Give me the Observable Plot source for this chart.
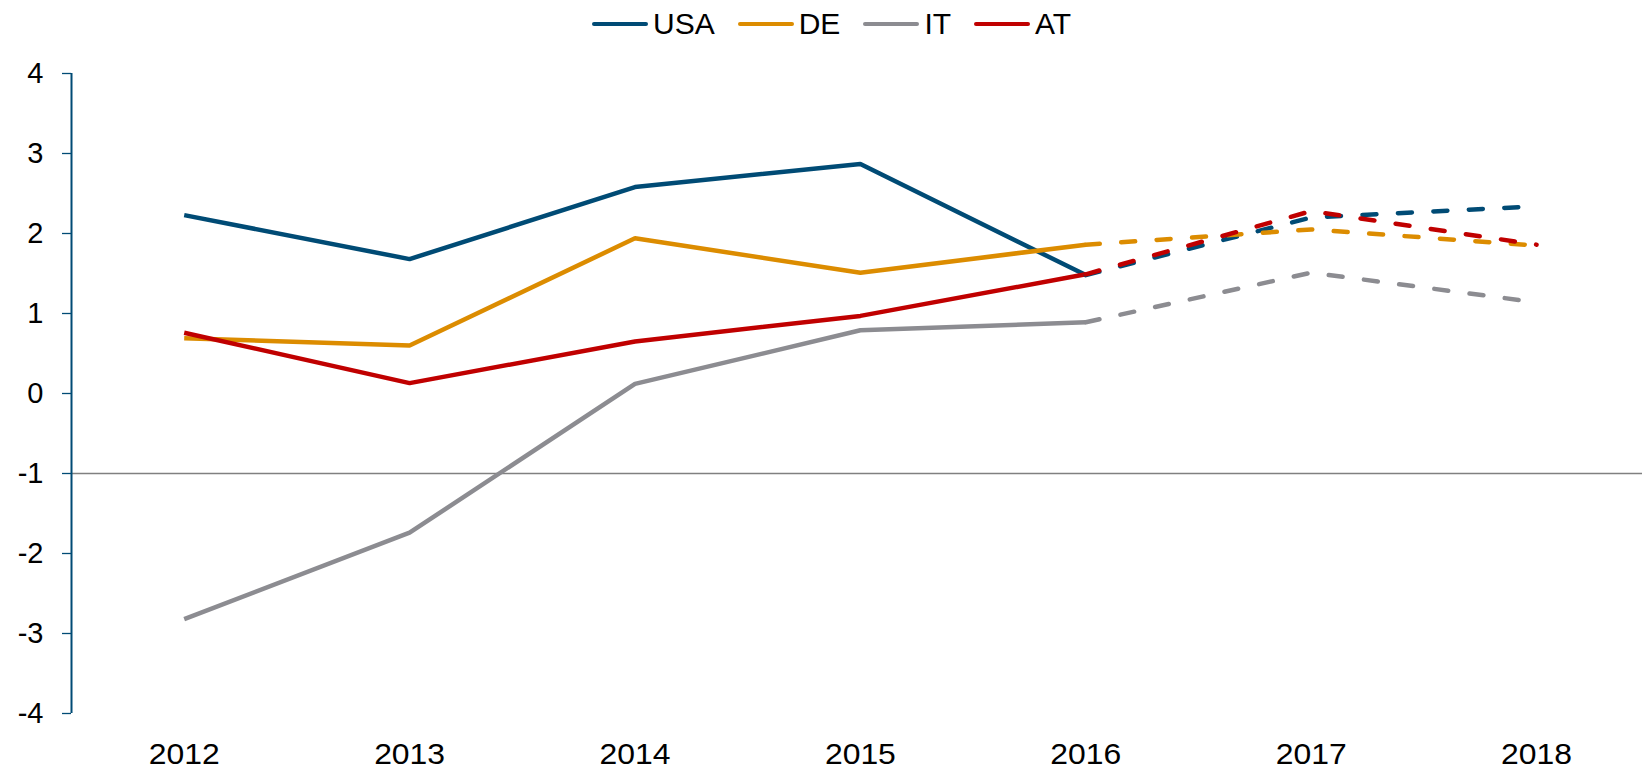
<!DOCTYPE html>
<html>
<head>
<meta charset="utf-8">
<script src="https://cdn.jsdelivr.net/npm/d3@7"></script>
<script src="https://cdn.jsdelivr.net/npm/@observablehq/plot@0.6"></script>
<style>
  html, body { margin: 0; padding: 0; background: #fff; }
  body { width: 1642px; height: 770px; overflow: hidden; font-family: "Liberation Sans", Arial, sans-serif; }
  #legend { position: relative; height: 48px; }
  #legend .items { position: absolute; left: 592px; top: 0; height: 48px; display: flex; align-items: center; }
  #legend .item { display: flex; align-items: center; margin-right: 23px; font-size: 30px; line-height: 30px; color: #000; }
  #legend .sw { display: inline-block; width: 56px; height: 4.5px; border-radius: 2.25px; margin-right: 5px; }
  svg { display: block; }
</style>
</head>
<body>
<div id="legend"><div class="items"></div></div>
<div id="chart"></div>
<script>
const years = [2012, 2013, 2014, 2015, 2016, 2017, 2018];
const seriesNames = ["USA", "DE", "IT", "AT"];
const usa = [2.23, 1.68, 2.58, 2.87, 1.48, 2.20, 2.34];
const de  = [0.69, 0.60, 1.94, 1.51, 1.86, 2.05, 1.85];
const it  = [-2.82, -1.74, 0.12, 0.79, 0.89, 1.51, 1.14];
const at  = [0.76, 0.13, 0.65, 0.97, 1.49, 2.28, 1.86];
const colors = ["#004b75", "#dc8c00", "#8c8c91", "#c00000"];
const yTicks = [-4, -3, -2, -1, 0, 1, 2, 3, 4];
const forecastStart = 2016;

const values = [usa, de, it, at];
const rows = [];
seriesNames.forEach((s, i) => years.forEach((y, j) => rows.push({series: s, year: y, value: values[i][j]})));
const solid = rows.filter(d => d.year <= forecastStart);
const dashed = rows.filter(d => d.year >= forecastStart);

// legend
const items = d3.select("#legend .items");
seriesNames.forEach((s, i) => {
  const el = items.append("div").attr("class", "item");
  el.append("span").attr("class", "sw").style("background", colors[i]);
  el.append("span").text(s);
});

const axisBlue = "#004b75";
const plot = Plot.plot({
  width: 1642,
  height: 722,
  marginLeft: 71,
  marginRight: 0,
  marginTop: 25,
  marginBottom: 57,
  style: {fontFamily: "'Liberation Sans', Arial, sans-serif", color: "#000", background: "#fff"},
  x: {type: "linear", domain: [2011.5, 2018.47], axis: null},
  y: {domain: [-4, 4], axis: null},
  color: {domain: seriesNames, range: colors},
  marks: [
    Plot.ruleY([-1], {stroke: "#808080", strokeWidth: 1.3}),
    Plot.ruleX([2011.5], {y1: -4, y2: 4, stroke: axisBlue, strokeWidth: 2}),
    Plot.axisY({ticks: yTicks, tickSize: 9, tickPadding: 19, stroke: axisBlue, strokeWidth: 1.3, fill: "#000", fontSize: 29, label: null, tickFormat: d => String(d)}),
    Plot.axisX({ticks: years, anchor: "bottom", tickSize: 0, tickPadding: 30, fontSize: 29, fill: "#000", label: null, tickFormat: d => String(d)}),
    Plot.line(solid, {x: "year", y: "value", z: "series", stroke: "series", strokeWidth: 4.5, strokeLinejoin: "miter", strokeLinecap: "butt"}),
    Plot.line(dashed, {x: "year", y: "value", z: "series", stroke: "series", strokeWidth: 4.5, strokeDasharray: "14,21.5", strokeLinecap: "round"})
  ]
});
document.getElementById("chart").appendChild(plot);

// slightly widened year labels, as in the reference
plot.querySelectorAll('[aria-label="x-axis tick label"] text').forEach(t => {
  const tr = t.getAttribute("transform") || "";
  const xa = t.getAttribute("x");
  let pre = "";
  if (xa !== null && /^-?[\d.]+$/.test(xa)) { pre = ` translate(${xa},0)`; t.removeAttribute("x"); }
  t.setAttribute("transform", `${tr}${pre} scale(1.1,1)`);
});
</script>
</body>
</html>
